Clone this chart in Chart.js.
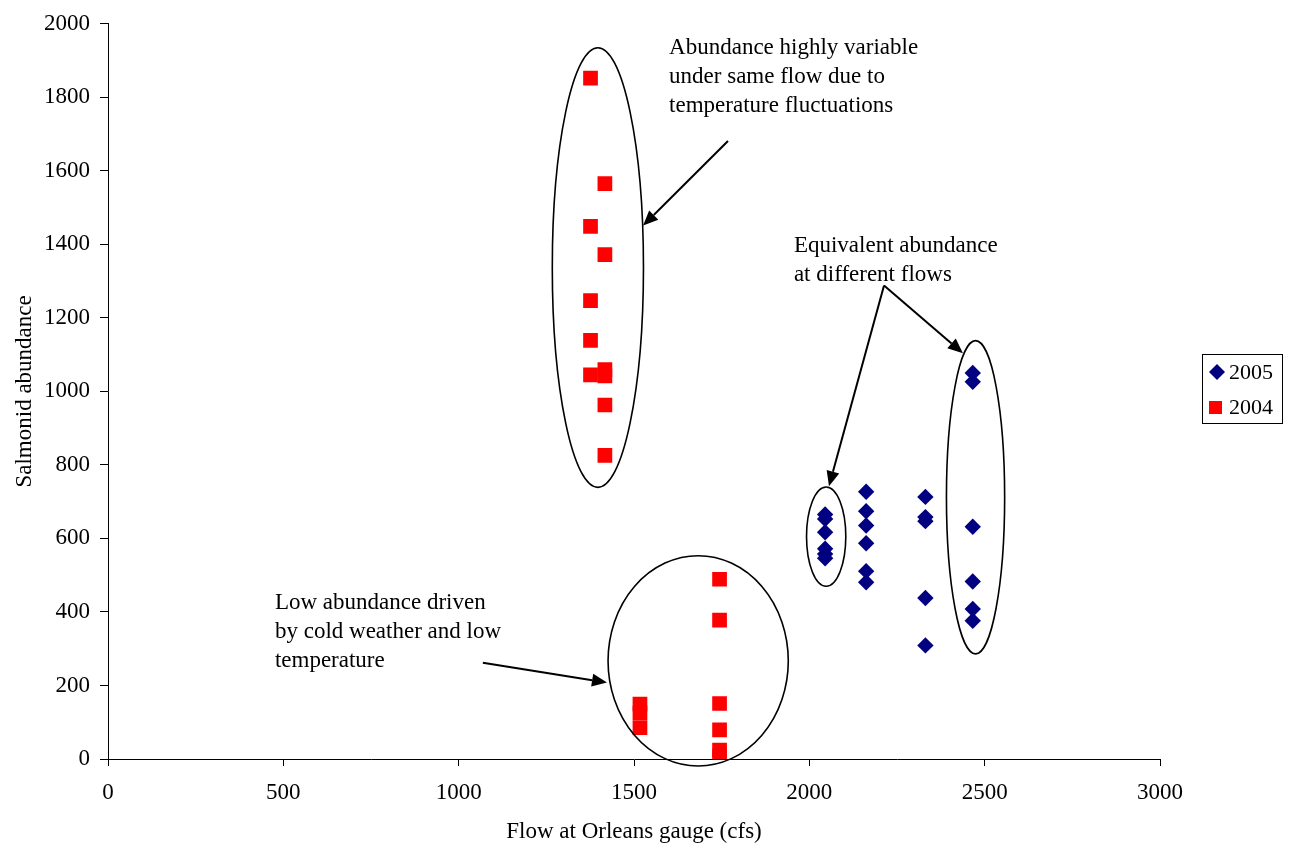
<!DOCTYPE html>
<html>
<head>
<meta charset="utf-8">
<script src="https://cdn.jsdelivr.net/npm/chart.js@4.4.1/dist/chart.umd.min.js"></script>
<style>
  html, body { margin: 0; padding: 0; background: #fff; }
  #wrap { width: 1292px; height: 846px; }
</style>
</head>
<body>
<div id="wrap"><canvas id="grafico"></canvas></div>
<script>
// Dados (vazão em cfs, abundância de salmonídeos)
const vazao2005 = [2045, 2045, 2045, 2045, 2045, 2045,
                   2162, 2162, 2162, 2162, 2162, 2162,
                   2331, 2331, 2331, 2331, 2331,
                   2466, 2466, 2466, 2466, 2466, 2466];
const abund2005 = [665, 653, 617, 572, 558, 546,
                   727, 674, 635, 587, 511, 481,
                   713, 658, 647, 438, 309,
                   1050, 1026, 632, 483, 408, 376];

const vazao2004 = [1376, 1376, 1376, 1376, 1376,
                   1417, 1417, 1417, 1417, 1417, 1417,
                   1517, 1517, 1517,
                   1744, 1744, 1744, 1744, 1744, 1744];
const abund2004 = [1852, 1449, 1247, 1139, 1045,
                   1565, 1372, 1059, 1042, 963, 826,
                   149, 125, 85,
                   489, 378, 151, 79, 24, 8];

const series = ['2005', '2004'];
const xTicks = [0, 500, 1000, 1500, 2000, 2500, 3000];
const yTicks = [0, 200, 400, 600, 800, 1000, 1200, 1400, 1600, 1800, 2000];

// Anotações (em coordenadas de dados)
const elipses = [
    { x: 1397, y: 1337, rx: 130, ry: 598 },
    { x: 1683, y: 267, rx: 257, ry: 286 },
    { x: 2048, y: 605, rx: 56, ry: 135 },
    { x: 2474, y: 712, rx: 83, ry: 426 }
];
const setas = [
    { de: [1768, 1681], para: [1526, 1451] },
    { de: [2213, 1288], para: [2056, 742] },
    { de: [2213, 1288], para: [2438, 1104] },
    { de: [1069, 262], para: [1423, 208] }
];
const notas = [
    { x: 1600, y: 1919, linhas: ['Abundance highly variable', 'under same flow due to', 'temperature fluctuations'] },
    { x: 1956, y: 1378, linhas: ['Equivalent abundance', 'at different flows'] },
    { x: 476, y: 408, linhas: ['Low abundance driven', 'by cold weather and low', 'temperature'] }
];

const fonte = "'Liberation Serif', 'Times New Roman', serif";
Chart.defaults.font.family = fonte;
Chart.defaults.font.size = 23;
Chart.defaults.color = '#000';

function pontos(xs, ys) {
    return xs.map((v, i) => ({ x: v, y: ys[i] }));
}

// Plugin simples para desenhar elipses, setas, textos e a legenda
const anotacoes = {
    id: 'anotacoes',
    afterDatasetsDraw(chart) {
        const ctx = chart.ctx;
        const sx = chart.scales.x, sy = chart.scales.y;
        ctx.save();
        ctx.strokeStyle = '#000';
        ctx.fillStyle = '#000';
        ctx.lineWidth = 1.6;

        elipses.forEach(e => {
            const cx = sx.getPixelForValue(e.x), cy = sy.getPixelForValue(e.y);
            const rx = sx.getPixelForValue(e.x + e.rx) - cx;
            const ry = cy - sy.getPixelForValue(e.y + e.ry);
            ctx.beginPath();
            ctx.ellipse(cx, cy, rx, ry, 0, 0, 2 * Math.PI);
            ctx.stroke();
        });

        ctx.lineWidth = 2;
        setas.forEach(s => {
            const x1 = sx.getPixelForValue(s.de[0]), y1 = sy.getPixelForValue(s.de[1]);
            const x2 = sx.getPixelForValue(s.para[0]), y2 = sy.getPixelForValue(s.para[1]);
            const ang = Math.atan2(y2 - y1, x2 - x1);
            const comp = 15, larg = 6.5;
            const bx = x2 - comp * Math.cos(ang), by = y2 - comp * Math.sin(ang);
            ctx.beginPath();
            ctx.moveTo(x1, y1);
            ctx.lineTo(bx, by);
            ctx.stroke();
            ctx.beginPath();
            ctx.moveTo(x2, y2);
            ctx.lineTo(bx + larg * Math.sin(ang), by - larg * Math.cos(ang));
            ctx.lineTo(bx - larg * Math.sin(ang), by + larg * Math.cos(ang));
            ctx.closePath();
            ctx.fill();
        });

        ctx.font = '23px ' + fonte;
        ctx.textAlign = 'left';
        ctx.textBaseline = 'alphabetic';
        notas.forEach(n => {
            const px = sx.getPixelForValue(n.x), py = sy.getPixelForValue(n.y);
            n.linhas.forEach((t, i) => ctx.fillText(t, px, py + i * 29));
        });

        // Legenda com caixa
        const ds = chart.data.datasets;
        ctx.lineWidth = 1;
        ctx.strokeRect(1202.5, 354.5, 80, 69);
        ctx.fillStyle = ds[0].backgroundColor;
        ctx.beginPath();
        ctx.moveTo(1217, 364); ctx.lineTo(1225, 372); ctx.lineTo(1217, 380); ctx.lineTo(1209, 372);
        ctx.closePath();
        ctx.fill();
        ctx.fillStyle = ds[1].backgroundColor;
        ctx.fillRect(1209, 401, 13, 13);
        ctx.fillStyle = '#000';
        ctx.font = '22px ' + fonte;
        ctx.textBaseline = 'middle';
        ctx.fillText(ds[0].label, 1229, 373);
        ctx.fillText(ds[1].label, 1229, 408);
        ctx.restore();
    }
};

new Chart(document.getElementById('grafico'), {
    type: 'scatter',
    data: {
        datasets: [{
            label: series[0],
            data: pontos(vazao2005, abund2005),
            pointStyle: 'rectRot',
            radius: 8.2,
            borderWidth: 0,
            backgroundColor: '#000080',
            borderColor: '#000080'
        }, {
            label: series[1],
            data: pontos(vazao2004, abund2004),
            pointStyle: 'rect',
            radius: 10.4,
            borderWidth: 0,
            backgroundColor: '#FF0000',
            borderColor: '#FF0000'
        }]
    },
    options: {
        responsive: true,
        maintainAspectRatio: false,
        animation: false,
        events: [],
        layout: { padding: { top: 20, right: 132, left: 0, bottom: 0 } },
        plugins: {
            legend: { display: false },
            tooltip: { enabled: false }
        },
        scales: {
            x: {
                type: 'linear',
                min: 0,
                max: 3000,
                afterBuildTicks: s => { s.ticks = xTicks.map(v => ({ value: v })); },
                afterFit: s => { s.height = 87; },
                ticks: { padding: 13, maxRotation: 0, callback: v => String(v) },
                grid: { drawOnChartArea: false, drawTicks: true, tickLength: 7, color: '#000' },
                border: { color: '#000', width: 1 },
                title: { display: true, text: 'Flow at Orleans gauge (cfs)', padding: { top: 0, bottom: 0 } }
            },
            y: {
                type: 'linear',
                min: 0,
                max: 2000,
                afterBuildTicks: s => { s.ticks = yTicks.map(v => ({ value: v })); },
                afterFit: s => { s.width = 108; },
                ticks: { padding: 10, callback: v => String(v) },
                grid: { drawOnChartArea: false, drawTicks: true, tickLength: 8, color: '#000' },
                border: { color: '#000', width: 1 },
                title: { display: true, text: 'Salmonid abundance', padding: { top: 11, bottom: 0 } }
            }
        }
    },
    plugins: [anotacoes]
});
</script>
</body>
</html>
